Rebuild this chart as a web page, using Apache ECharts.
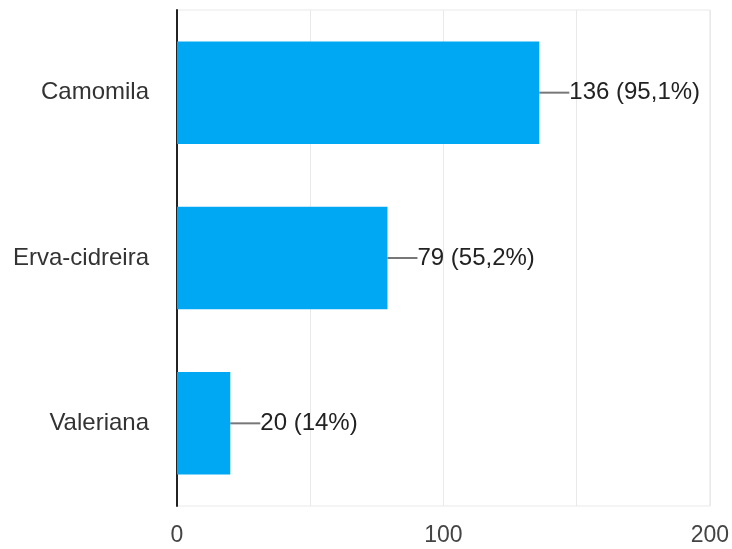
<!DOCTYPE html>
<html>
<head>
<meta charset="utf-8">
<script src="https://cdn.jsdelivr.net/npm/echarts@6/dist/echarts.min.js"></script>
<style>
  html, body { margin: 0; padding: 0; background: #fff; }
  #chart { width: 732px; height: 549px; }
</style>
</head>
<body>
<div id="chart"></div>
<script>
// Plants named by respondents
const categories = ['Camomila', 'Erva-cidreira', 'Valeriana'];
// Number of answers per plant
const counts = [136, 79, 20];
// Share of respondents, as printed next to each bar
const shares = ['95,1%', '55,2%', '14%'];

const chart = echarts.init(document.getElementById('chart'));
const font = '"Liberation Sans", Arial, sans-serif';

chart.setOption({
  backgroundColor: '#ffffff',
  animation: false,
  grid: {
    left: 177, right: 22, top: 10, bottom: 43,
    show: true, borderColor: '#e9e9e9', borderWidth: 1
  },
  xAxis: {
    type: 'value', min: 0, max: 200, interval: 50,
    axisLine: { show: false },
    axisTick: { show: false },
    splitLine: { show: true, lineStyle: { color: '#e9e9e9', width: 1 } },
    axisLabel: {
      fontFamily: font, fontSize: 23, color: '#444', margin: 18,
      formatter: v => (v % 100 === 0 ? String(v) : '')
    }
  },
  yAxis: {
    type: 'category', data: categories, inverse: true,
    axisLine: { show: true, onZero: false, lineStyle: { color: '#222', width: 2 } },
    axisTick: { show: false },
    splitLine: { show: false },
    axisLabel: { fontFamily: font, fontSize: 24, color: '#333', margin: 28 }
  },
  series: [{
    type: 'bar',
    data: counts,
    barWidth: '62%',
    itemStyle: { color: '#00a8f3' },
    label: {
      show: true, position: 'right', distance: 0,
      fontFamily: font, fontSize: 24, color: '#222',
      formatter: p => p.value + ' (' + shares[p.dataIndex] + ')'
    },
    labelLayout: { dx: 30 },
    labelLine: { show: true, lineStyle: { color: '#777', width: 2 } }
  }]
});
</script>
</body>
</html>
